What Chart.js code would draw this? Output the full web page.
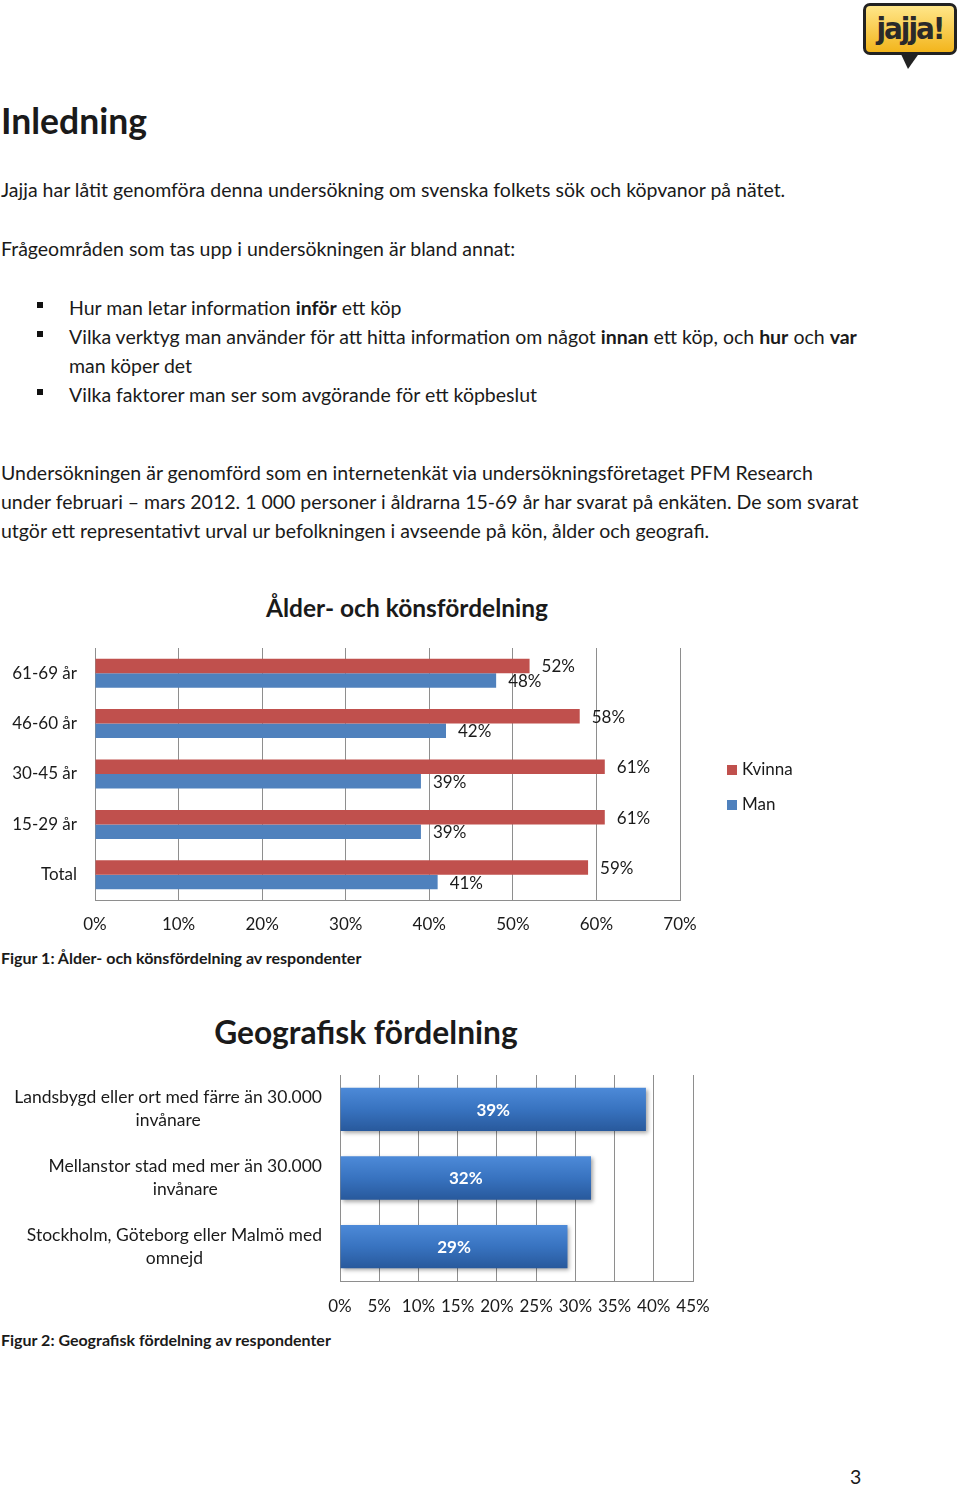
<!DOCTYPE html>
<html>
<head>
<meta charset="utf-8">
<script src="https://cdn.jsdelivr.net/npm/chart.js"></script>
<style>
  body { margin:0; background:#fff; }
  #page { position:relative; width:960px; height:1486px; overflow:hidden; font-family:Lato, "Open Sans", sans-serif; color:#1a1a1a; }
  .t { position:absolute; white-space:nowrap; font-size:19.5px; line-height:28px; }
  .b { font-weight:bold; }
  .bullet { position:absolute; width:6px; height:6px; background:#111; left:37px; }
  canvas { position:absolute; left:0; }
  #logo { position:absolute; left:863px; top:3px; width:88px; height:46px; border:3px solid #222; border-radius:7px;
          background:linear-gradient(#ffe689,#f3b51c); font:bold 31px "DejaVu Sans Condensed", sans-serif; color:#2a2a2a;
          text-align:center; line-height:44px; letter-spacing:-2px; }
  #tail { position:absolute; left:900px; top:52px; width:0; height:0; border-left:8px solid transparent; border-right:12px solid transparent; border-top:17px solid #222; }
</style>
</head>
<body>
<div id="page">
  <div id="logo">jajja!</div>
  <div id="tail"></div>

  <div class="t b" style="left:1px; top:98px; font-size:35.5px; line-height:46px;">Inledning</div>

  <div class="t" style="left:1px; top:176px;">Jajja har låtit genomföra denna undersökning om svenska folkets sök och köpvanor på nätet.</div>
  <div class="t" style="left:1px; top:235px;">Frågeområden som tas upp i undersökningen är bland annat:</div>

  <div class="bullet" style="top:302px;"></div>
  <div class="t" style="left:69px; top:294px;">Hur man letar information <b>inför</b> ett köp</div>
  <div class="bullet" style="top:331px;"></div>
  <div class="t" style="left:69px; top:323px;">Vilka verktyg man använder för att hitta information om något <b>innan</b> ett köp, och <b>hur</b> och <b>var</b></div>
  <div class="t" style="left:69px; top:352px;">man köper det</div>
  <div class="bullet" style="top:389px;"></div>
  <div class="t" style="left:69px; top:381px;">Vilka faktorer man ser som avgörande för ett köpbeslut</div>

  <div class="t" style="left:1px; top:459px;">Undersökningen är genomförd som en internetenkät via undersökningsföretaget PFM Research</div>
  <div class="t" style="left:1px; top:488px;">under februari – mars 2012. 1 000 personer i åldrarna 15-69 år har svarat på enkäten. De som svarat</div>
  <div class="t" style="left:1px; top:517px;">utgör ett representativt urval ur befolkningen i avseende på kön, ålder och geografi.</div>

  <div class="t b" style="left:0; width:814px; text-align:center; top:592px; font-size:24.5px; line-height:32px;">Ålder- och könsfördelning</div>
  <canvas id="ageChart" width="820" height="300" style="top:640px;"></canvas>
  <div class="t b" style="left:1px; top:948px; font-size:16px; line-height:20px;">Figur 1: Ålder- och könsfördelning av respondenter</div>

  <div class="t b" style="left:0; width:732px; text-align:center; top:1012px; font-size:31.7px; line-height:40px;">Geografisk fördelning</div>
  <canvas id="geoChart" width="720" height="260" style="top:1065px;"></canvas>
  <div class="t b" style="left:1px; top:1330px; font-size:16px; line-height:20px;">Figur 2: Geografisk fördelning av respondenter</div>

  <div class="t" style="left:850px; top:1463px;">3</div>
</div>

<script>
const FONT = 'Lato, "Open Sans", sans-serif';
const TEXT = '#1a1a1a';
const GRID = '#8e8e8e';

// Figur 1 data
const ageLabels = ['61-69 år', '46-60 år', '30-45 år', '15-29 år', 'Total'];
const kvinnaValues = [52, 58, 61, 61, 59];
const manValues = [48, 42, 39, 39, 41];
const ageMax = 70;
const ageStep = 10;

// Figur 2 data
const geoLabels = [
  ['Landsbygd eller ort med färre än 30.000', 'invånare'],
  ['Mellanstor stad med mer än 30.000', 'invånare'],
  ['Stockholm, Göteborg eller Malmö med', 'omnejd']
];
const geoValues = [39, 32, 29];
const geoMax = 45;
const geoStep = 5;

Chart.defaults.font.family = FONT;
Chart.defaults.color = TEXT;

//value labels to the right of each bar
const endLabels = {
  id: 'endLabels',
  afterDatasetsDraw(chart) {
    const ctx = chart.ctx;
    ctx.save();
    ctx.font = '17px ' + FONT;
    ctx.fillStyle = TEXT;
    ctx.textAlign = 'left';
    ctx.textBaseline = 'middle';
    chart.data.datasets.forEach((ds, i) => {
      chart.getDatasetMeta(i).data.forEach((bar, j) => {
        ctx.fillText(ds.data[j] + '%', bar.x + 12, bar.y + 1);
      });
    });
    ctx.restore();
  }
};

//legend box on the right
const sideLegend = {
  id: 'sideLegend',
  afterDraw(chart) {
    const ctx = chart.ctx;
    ctx.save();
    ctx.font = '17px ' + FONT;
    ctx.textBaseline = 'middle';
    chart.data.datasets.forEach((ds, i) => {
      const y = 130 + i * 35;
      ctx.fillStyle = ds.backgroundColor;
      ctx.fillRect(727, y - 5, 10, 10);
      ctx.fillStyle = TEXT;
      ctx.fillText(ds.label, 742, y);
    });
    ctx.restore();
  }
};

const config1 = {
  type: 'bar',
  data: {
    labels: ageLabels,
    datasets: [
      { label: 'Kvinna', data: kvinnaValues, backgroundColor: '#c0504d', categoryPercentage: 0.575, barPercentage: 1 },
      { label: 'Man', data: manValues, backgroundColor: '#4f81bd', categoryPercentage: 0.575, barPercentage: 1 }
    ]
  },
  options: {
    indexAxis: 'y',
    responsive: false,
    animation: false,
    layout: { padding: { top: 8, right: 140, left: 0, bottom: 0 } },
    plugins: { legend: { display: false }, tooltip: { enabled: false } },
    scales: {
      x: {
        min: 0, max: ageMax,
        ticks: { stepSize: ageStep, callback: v => v + '%', font: { size: 17 }, color: TEXT, padding: 14, maxRotation: 0, autoSkip: false },
        grid: { color: GRID, drawTicks: false },
        border: { color: GRID },
        afterFit(s) { s.height = 40; s.paddingLeft = 0; s.paddingRight = 0; }
      },
      y: {
        ticks: { font: { size: 17 }, color: TEXT, padding: 18 },
        grid: { display: false, drawTicks: false },
        border: { color: GRID },
        afterFit(s) { s.width = 95; s.paddingTop = 0; s.paddingBottom = 0; }
      }
    }
  },
  plugins: [endLabels, sideLegend]
};

//geo chart: bar shadow, labels inside, multi line category text
const barShadow = {
  id: 'barShadow',
  beforeDatasetsDraw(chart) {
    const ctx = chart.ctx;
    ctx.save();
    ctx.shadowColor = 'rgba(0,0,0,0.35)';
    ctx.shadowBlur = 4;
    ctx.shadowOffsetX = 2;
    ctx.shadowOffsetY = 2;
  },
  afterDatasetsDraw(chart) {
    chart.ctx.restore();
  }
};

const innerLabels = {
  id: 'innerLabels',
  afterDatasetsDraw(chart) {
    const ctx = chart.ctx;
    ctx.save();
    ctx.font = 'bold 17px ' + FONT;
    ctx.fillStyle = '#ffffff';
    ctx.textAlign = 'center';
    ctx.textBaseline = 'middle';
    chart.getDatasetMeta(0).data.forEach((bar, j) => {
      ctx.fillText(chart.data.datasets[0].data[j] + '%', (bar.x + bar.base) / 2, bar.y + 1);
    });
    ctx.restore();
  }
};

const catText = {
  id: 'catText',
  afterDraw(chart) {
    const ctx = chart.ctx;
    const yScale = chart.scales.y;
    ctx.save();
    ctx.font = '17.5px ' + FONT;
    ctx.fillStyle = TEXT;
    ctx.textAlign = 'center';
    ctx.textBaseline = 'middle';
    chart.data.labels.forEach((lines, i) => {
      const widest = Math.max(...lines.map(l => ctx.measureText(l).width));
      const cx = yScale.right - 18 - widest / 2;
      const cy = yScale.getPixelForValue(i);
      lines.forEach((l, k) => {
        ctx.fillText(l, cx, cy + (k - (lines.length - 1) / 2) * 23);
      });
    });
    ctx.restore();
  }
};

function geoFill(c) {
  const chart = c.chart;
  const yScale = chart.scales.y;
  if (!chart.chartArea || !yScale || c.dataIndex === undefined) return '#3a74bd';
  const cy = yScale.getPixelForValue(c.dataIndex);
  const h = yScale.height / geoLabels.length * 0.63 / 2;
  if (!isFinite(cy) || !isFinite(h)) return '#3a74bd';
  const g = chart.ctx.createLinearGradient(0, cy - h, 0, cy + h);
  g.addColorStop(0, '#4d8ad8');
  g.addColorStop(0.5, '#3873c0');
  g.addColorStop(1, '#28599c');
  return g;
}

const config2 = {
  type: 'bar',
  data: {
    labels: geoLabels,
    datasets: [
      { label: 'Andel', data: geoValues, backgroundColor: geoFill, categoryPercentage: 0.63, barPercentage: 1 }
    ]
  },
  options: {
    indexAxis: 'y',
    responsive: false,
    animation: false,
    layout: { padding: { top: 10, right: 27, left: 0, bottom: 0 } },
    plugins: { legend: { display: false }, tooltip: { enabled: false } },
    scales: {
      x: {
        min: 0, max: geoMax,
        ticks: { stepSize: geoStep, callback: v => v + '%', font: { size: 17 }, color: TEXT, padding: 15, maxRotation: 0, minRotation: 0, autoSkip: false },
        grid: { color: GRID, drawTicks: false },
        border: { color: GRID },
        afterFit(s) { s.height = 44; s.paddingLeft = 0; s.paddingRight = 0; }
      },
      y: {
        ticks: { display: false },
        grid: { display: false, drawTicks: false },
        border: { color: GRID },
        afterFit(s) { s.width = 340; s.paddingTop = 0; s.paddingBottom = 0; }
      }
    }
  },
  plugins: [barShadow, innerLabels, catText]
};

const ageChart = new Chart(document.getElementById('ageChart'), config1);
const geoChart = new Chart(document.getElementById('geoChart'), config2);
</script>
</body>
</html>
